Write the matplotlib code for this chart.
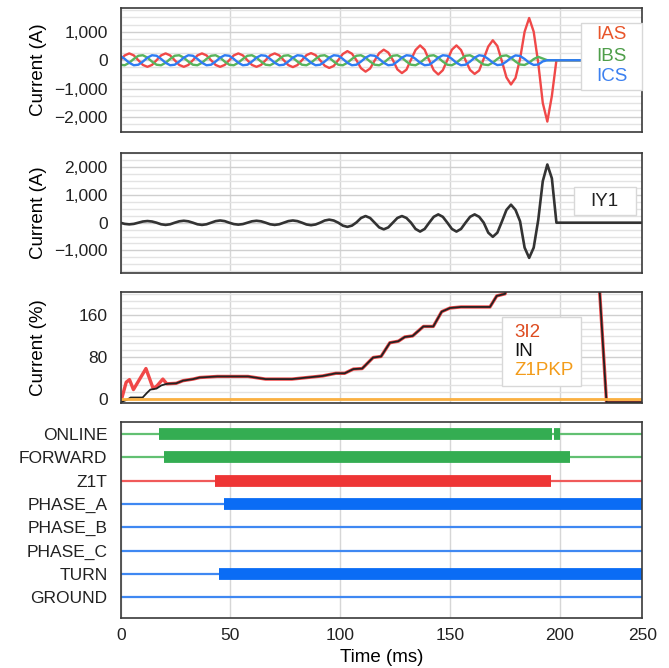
import numpy as np
import matplotlib
matplotlib.use("Agg")
import matplotlib.pyplot as plt
from matplotlib.patches import Rectangle
from matplotlib.ticker import MultipleLocator

plt.rcParams['font.family'] = ['Liberation Sans', 'DejaVu Sans']
plt.rcParams['font.size'] = 12.5

# analog channels, sampled 8 times per 60 Hz cycle
SAMPLE_T0 = -0.24   # ms
SAMPLE_DT = 2.07    # ms
X_END = 237.6       # right edge of the record (ms)

ias = [0, 170, 240, 170, 0, -165, -230, -165,
       0, 170, 240, 170, 0, -165, -230, -165,
       0, 170, 240, 170, 0, -165, -230, -165,
       0, 170, 240, 170, 0, -165, -230, -165,
       0, 170, 240, 170, 0, -170, -240, -170,
       0, 180, 250, 180, 0, -190, -270, -200,
       10, 220, 320, 230, 0, -280, -400, -290,
       -10, 250, 370, 270, 10, -320, -450, -330,
       20, 360, 520, 370, 0, -350, -500, -350,
       10, 370, 520, 360, 0, -340, -480, -360,
       50, 480, 700, 500, -30, -600, -850, -620,
       50, 1000, 1480, 1000, -100, -1500, -2150, -1250,
       0] + [0] * 20
ibs = [-157, -175, -90, 47, 157, 175, 90, -47,
       -157, -175, -90, 47, 157, 175, 90, -47,
       -157, -175, -90, 47, 157, 175, 90, -47,
       -157, -175, -90, 47, 157, 175, 90, -47,
       -157, -175, -90, 47, 157, 175, 90, -47,
       -157, -175, -90, 47, 157, 175, 90, -47,
       -157, -175, -90, 47, 157, 175, 90, -47,
       -157, -175, -90, 47, 157, 175, 90, -47,
       -157, -175, -90, 47, 157, 175, 90, -47,
       -157, -175, -90, 47, 157, 175, 90, -47,
       -150, -170, -85, 45, 150, 170, 85, -45,
       -150, -165, -85, 40, 120, 60, 0, 0,
       0] + [0] * 20
ics = [157, 47, -90, -175, -157, -47, 90, 175,
       157, 47, -90, -175, -157, -47, 90, 175,
       157, 47, -90, -175, -157, -47, 90, 175,
       157, 47, -90, -175, -157, -47, 90, 175,
       157, 47, -90, -175, -157, -47, 90, 175,
       157, 47, -90, -175, -157, -47, 90, 175,
       157, 47, -90, -175, -157, -47, 90, 175,
       157, 47, -90, -175, -157, -47, 90, 175,
       157, 47, -90, -175, -157, -47, 90, 175,
       157, 47, -90, -175, -157, -47, 90, 175,
       150, 45, -85, -170, -150, -45, 85, 170,
       150, 45, -85, -165, -150, -40, 0, 0,
       0] + [0] * 20
iy1 = [0, -43, -60, -43, 0, 43, 60, 43,
       0, -57, -80, -57, 0, 50, 70, 50,
       0, -57, -80, -57, 0, 57, 80, 57,
       0, -50, -70, -50, 0, 50, 70, 50,
       0, -57, -80, -57, 0, 57, 80, 57,
       0, -64, -90, -64, 0, 78, 110, 78,
       0, -106, -150, -106, 10, 170, 240, 170,
       0, -170, -240, -170, 0, 170, 240, 170,
       0, -226, -320, -226, 0, 212, 300, 212,
       0, -226, -320, -226, 0, 212, 300, 212,
       0, -360, -510, -360, 40, 460, 650, 460,
       50, -900, -1270, -900, 100, 1500, 2100, 1600,
       0] + [0] * 20

# sequence / residual current (% of nominal)
in_t = [0, 3, 4.5, 10, 12, 13.5, 16.3, 18.5, 21, 25.3, 28.4, 33, 36, 44, 58, 66, 78,
        85, 92, 98, 102, 106, 110, 115, 118.6, 122.6, 126.5, 129.4, 133, 137.9,
        142.4, 146.2, 150, 155, 168.2, 171.3, 175.1, 178, 217.5, 221.3, 237.6]
in_v = [-6, -1, 3, 3, 12, 18, 20, 26, 29, 30, 35, 38, 41, 43, 43, 38, 38,
        41, 44, 49, 49, 57, 58, 79, 81, 107, 110, 118, 120, 138,
        138, 166, 173, 175, 175, 196, 200, 250, 250, -6, -6]
i3i2_t_start = [0, 2.5, 4, 5.8, 11.5, 14.8, 16.5, 19.2]
i3i2_v_start = [-6, 32, 37, 18, 58, 20, 25, 38]
z1pkp_t = [0, 237.6]
z1pkp_v = [0, 0]

# digital channels: (start, end) of the asserted intervals in ms
signals = ['ONLINE', 'FORWARD', 'Z1T', 'PHASE_A', 'PHASE_B', 'PHASE_C', 'TURN', 'GROUND']
signal_on = {
    'ONLINE': [(17.5, 196.3), (197.6, 200.3)],
    'FORWARD': [(19.9, 204.5)],
    'Z1T': [(42.9, 196.0)],
    'PHASE_A': [(47.2, 237.6)],
    'PHASE_B': [],
    'PHASE_C': [],
    'TURN': [(44.9, 237.6)],
    'GROUND': [],
}
signal_color = {'ONLINE': 'green', 'FORWARD': 'green', 'Z1T': 'red'}

thick_col = {'green': '#34ad52', 'red': '#ee3535', 'blue': '#0a6cf5'}
thin_col = {'green': '#62c072', 'red': '#f05a5a', 'blue': '#3f88f2'}

t = SAMPLE_T0 + SAMPLE_DT * np.arange(len(ias))

fig = plt.figure(figsize=(6.69, 6.68), dpi=100)
W, H = 669.0, 668.0
L, R = 120.7, 642.3
TITLE_FS = 13.5
LEG_FS = 13.5


def add_axes(top, bottom):
    return fig.add_axes([L / W, 1 - bottom / H, (R - L) / W, (bottom - top) / H])


ax1 = add_axes(7.5, 132.3)
ax2 = add_axes(153.3, 272.7)
ax3 = add_axes(291.7, 403.3)
ax4 = add_axes(422.0, 618.3)

for ax in [ax1, ax2, ax3, ax4]:
    ax.set_xlim(0, X_END)
    ax.set_axisbelow(True)
    for s in ax.spines.values():
        s.set_color('#3a3a3a')
        s.set_linewidth(1.2)
    ax.tick_params(length=0, labelsize=12.5, colors='#222222')
    ax.tick_params(axis='y', pad=9.5)
    ax.set_xticks([0, 50, 100, 150, 200])
    ax.grid(axis='x', which='major', color='#d6d6d6', lw=1)
    if ax is not ax4:
        ax.set_xticklabels([])
        ax.grid(axis='y', which='major', color='#cfcfcf', lw=1)
        ax.grid(axis='y', which='minor', color='#e3e3e3', lw=1)
        ax.tick_params(which='minor', length=0)


def legend_box(ax, x0, y0, w, h):
    ax.add_patch(Rectangle((x0, y0), w, h, transform=ax.transAxes, facecolor='white',
                           edgecolor='#d8d8d8', lw=1, zorder=5, clip_on=False))


# panel 1: phase currents
ax1.plot(t, ias, color='#f04848', lw=1.7)
ax1.plot(t, ibs, color='#58b45c', lw=1.7)
ax1.plot(t, ics, color='#2f7cf2', lw=1.7)
ax1.set_ylim(-2526, 1849)
ax1.set_yticks([-2000, -1000, 0, 1000])
ax1.set_yticklabels(['\u22122,000', '\u22121,000', '0', '1,000'])
ax1.yaxis.set_minor_locator(MultipleLocator(250))
ax1.set_ylabel('Current (A)', fontsize=TITLE_FS)
ax1.yaxis.set_label_coords(-0.141, 0.5)
legend_box(ax1, 0.882, 0.339, 0.118, 0.539)
for lab, yy, c in [('IAS', 0.780, '#e8552a'), ('IBS', 0.606, '#4f9e4a'), ('ICS', 0.451, '#3c80f0')]:
    ax1.text(0.912, yy, lab, color=c, transform=ax1.transAxes, va='center', ha='left',
             fontsize=LEG_FS, zorder=6)

# panel 2: IY1
ax2.plot(t, iy1, color='#333333', lw=1.9)
ax2.set_ylim(-1805, 2505)
ax2.set_yticks([-1000, 0, 1000, 2000])
ax2.set_yticklabels(['\u22121,000', '0', '1,000', '2,000'])
ax2.yaxis.set_minor_locator(MultipleLocator(250))
ax2.set_ylabel('Current (A)', fontsize=TITLE_FS)
ax2.yaxis.set_label_coords(-0.141, 0.5)
legend_box(ax2, 0.869, 0.483, 0.119, 0.232)
ax2.text(0.928, 0.597, 'IY1', color='#222222', transform=ax2.transAxes, va='center',
         ha='center', fontsize=LEG_FS, zorder=6)

# panel 3: 3I2, IN, Z1PKP
i3i2_t = i3i2_t_start + [tt for tt in in_t if tt > 20.5]
i3i2_v = i3i2_v_start + [vv for tt, vv in zip(in_t, in_v) if tt > 20.5]
ax3.plot(i3i2_t, i3i2_v, color='#f04848', lw=2.4)
ax3.plot(in_t, in_v, color='#222222', lw=1.3)
ax3.plot(z1pkp_t, z1pkp_v, color='#fbb040', lw=2.0)
ax3.set_ylim(-8, 204)
ax3.set_yticks([0, 80, 160])
ax3.yaxis.set_minor_locator(MultipleLocator(80 / 6))
ax3.set_ylabel('Current (%)', fontsize=TITLE_FS)
ax3.yaxis.set_label_coords(-0.141, 0.5)
legend_box(ax3, 0.7316, 0.155, 0.150, 0.616)
for lab, yy, c in [('3I2', 0.636, '#dd4a1e'), ('IN', 0.462, '#111111'), ('Z1PKP', 0.292, '#f39c1a')]:
    ax3.text(0.7546, yy, lab, color=c, transform=ax3.transAxes, va='center', ha='left',
             fontsize=LEG_FS, zorder=6)

# panel 4: digital channels
rows = np.arange(len(signals))[::-1]
for name, y in zip(signals, rows):
    col = signal_color.get(name, 'blue')
    ax4.plot([0, X_END], [y, y], color=thin_col[col], lw=1.6, solid_capstyle='butt')
    for a, b in signal_on[name]:
        ax4.plot([a, b], [y, y], color=thick_col[col], lw=8.5, solid_capstyle='butt')
ax4.set_ylim(-0.91, 7.52)
ax4.set_yticks(rows)
ax4.set_yticklabels(signals)
ax4.set_xticks([0, 50, 100, 150, 200, X_END])
ax4.set_xticklabels(['0', '50', '100', '150', '200', '250'])
ax4.tick_params(axis='x', pad=7)
ax4.set_xlabel('Time (ms)', fontsize=TITLE_FS)
ax4.xaxis.label.set_va('center')
ax4.xaxis.set_label_coords(0.5, -0.202)

fig.savefig('out.png', dpi=100)
